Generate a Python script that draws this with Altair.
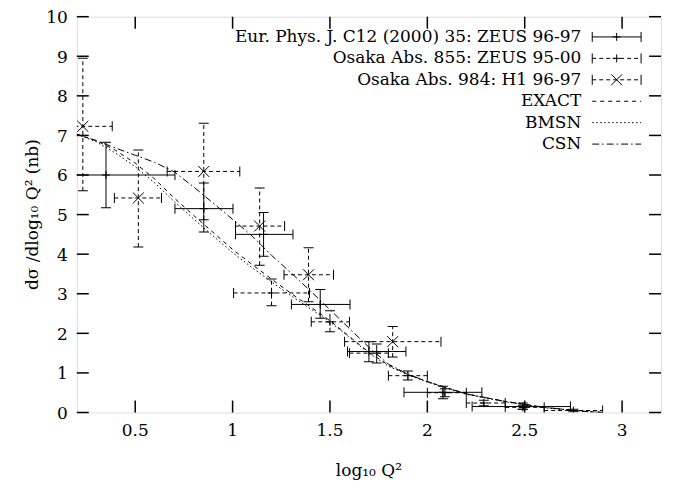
import altair as alt
import pandas as pd

# ---------------- data ----------------
# ZEUS 96-97 (Eur. Phys. J. C12 (2000) 35)
z97_x   = [0.35, 0.852, 1.159, 1.45, 1.70, 2.08, 2.49]
z97_y   = [6.00, 5.15, 4.50, 2.73, 1.54, 0.51, 0.15]
z97_xlo = [-0.006, 0.704, 1.015, 1.302, 1.59, 1.88, 2.23]
z97_xhi = [0.704, 1.002, 1.31, 1.603, 1.89, 2.28, 2.735]
z97_ylo = [5.17, 4.56, 3.95, 2.38, 1.28, 0.35, 0.08]
z97_yhi = [6.83, 5.80, 5.05, 3.11, 1.79, 0.66, 0.24]

# ZEUS 95-00 (Osaka Abs. 855)
z00_x   = [1.20, 1.50, 1.74, 1.90, 2.09, 2.29, 2.49, 2.75]
z00_y   = [3.02, 2.29, 1.50, 0.93, 0.50, 0.24, 0.13, 0.05]
z00_xlo = [1.005, 1.404, 1.60, 1.80, 2.00, 2.20, 2.40, 2.60]
z00_xhi = [1.395, 1.60, 1.80, 2.00, 2.20, 2.40, 2.60, 2.90]
z00_ylo = [2.70, 2.04, 1.25, 0.82, 0.40, 0.17, 0.08, 0.02]
z00_yhi = [3.37, 2.57, 1.73, 1.05, 0.60, 0.31, 0.18, 0.08]

# H1 96-97 (Osaka Abs. 984)
h1_x   = [0.231, 0.516, 0.852, 1.139, 1.39, 1.822]
h1_y   = [7.23, 5.42, 6.09, 4.71, 3.48, 1.79]
h1_xlo = [0.08, 0.393, 0.664, 1.015, 1.264, 1.575]
h1_xhi = [0.382, 0.635, 1.037, 1.267, 1.518, 2.07]
h1_ylo = [5.60, 4.18, 4.87, 3.72, 2.80, 1.40]
h1_yhi = [8.95, 6.63, 7.31, 5.67, 4.16, 2.17]

# theory curves
curve_x = [0.2, 0.3, 0.4, 0.5, 0.6, 0.7, 0.8, 0.9, 1.0, 1.1, 1.2, 1.3, 1.4,
           1.5, 1.6, 1.7, 1.8, 1.9, 2.0, 2.2, 2.4, 2.6, 2.8, 2.9]
exact_y = [7.03, 6.87, 6.62, 6.30, 5.90, 5.42, 4.98, 4.55, 4.12, 3.74, 3.37, 3.01, 2.67,
           2.32, 1.92, 1.52, 1.20, 0.96, 0.78, 0.47, 0.28, 0.13, 0.03, 0.0]
bmsn_y  = [7.03, 6.84, 6.55, 6.21, 5.80, 5.33, 4.89, 4.46, 4.04, 3.66, 3.30, 2.95, 2.62,
           2.29, 1.90, 1.50, 1.17, 0.95, 0.77, 0.46, 0.27, 0.12, 0.03, 0.0]
csn_y   = [7.03, 6.87, 6.68, 6.50, 6.32, 6.08, 5.70, 5.29, 4.88, 4.46, 3.97, 3.53, 3.07,
           2.60, 2.12, 1.65, 1.22, 0.97, 0.78, 0.47, 0.28, 0.13, 0.03, 0.0]

x_ticks = [0.5, 1, 1.5, 2, 2.5, 3]
x_tick_labels = ["0.5", "1", "1.5", "2", "2.5", "3"]
y_ticks = list(range(0, 11))
y_tick_labels = [str(v) for v in y_ticks]

x_title = "log₁₀ Q²"
y_title = "dσ /dlog₁₀ Q² (nb)"

legend_labels = ["Eur. Phys. J. C12 (2000) 35: ZEUS 96-97",
                 "Osaka Abs. 855: ZEUS 95-00",
                 "Osaka Abs. 984: H1 96-97",
                 "EXACT", "BMSN", "CSN"]

# ---------------- layout ----------------
W, H = 586, 397
FONT = "DejaVu Serif"
FS = 17
DASH = [4, 3]
XPATH = "M-1,-1L1,1M-1,1L1,-1"
PLUS = "M-1,0L1,0M0,-1L0,1"

xs = alt.Scale(domain=[0.2, 3.2], nice=False, zero=False)
ys = alt.Scale(domain=[0, 10], nice=False, zero=False)


def X(field):
    return alt.X(field, scale=xs, axis=None)


def Y(field):
    return alt.Y(field, scale=ys, axis=None)


def frame(x, y, xlo, xhi, ylo, yhi):
    return pd.DataFrame(dict(x=x, y=y, xlo=xlo, xhi=xhi, ylo=ylo, yhi=yhi))


def errbars(df, dash, marker):
    base = alt.Chart(df)
    rk = dict(color="black", strokeWidth=1, clip=True)
    if dash:
        rk["strokeDash"] = dash
    layers = [
        base.mark_rule(**rk).encode(x=X("xlo:Q"), x2="xhi:Q", y=Y("y:Q")),
        base.mark_rule(**rk).encode(x=X("x:Q"), y=Y("ylo:Q"), y2="yhi:Q"),
    ]
    tk = dict(color="black", thickness=1, size=10, clip=True, opacity=1)
    for c in ["ylo", "yhi"]:
        layers.append(base.mark_tick(orient="horizontal", **tk).encode(
            x=X("x:Q"), y=Y(f"{c}:Q")))
    for c in ["xlo", "xhi"]:
        layers.append(base.mark_tick(orient="vertical", **tk).encode(
            x=X(f"{c}:Q"), y=Y("y:Q")))
    layers.append(base.mark_point(shape=marker, size=(121 if marker == XPATH else 64),
                                  filled=False, color="black", strokeWidth=1,
                                  opacity=1, clip=True).encode(x=X("x:Q"), y=Y("y:Q")))
    return layers


layers = []

# tick labels and axis titles as text marks
ylab = pd.DataFrame({"v": y_ticks, "t": y_tick_labels})
xlab = pd.DataFrame({"v": x_ticks, "t": x_tick_labels})
txt = dict(font=FONT, fontSize=FS, color="black")
layers.append(alt.Chart(ylab).mark_text(align="right", baseline="middle", dy=1.5, **txt).encode(
    y=Y("v:Q"), x=alt.value(-9), text="t:N"))
layers.append(alt.Chart(xlab).mark_text(align="center", baseline="middle", **txt).encode(
    x=X("v:Q"), y=alt.value(H + 19), text="t:N"))
layers.append(alt.Chart(pd.DataFrame({"t": [x_title]})).mark_text(
    align="center", baseline="middle", **txt).encode(
    x=alt.value(W / 2), y=alt.value(H + 59), text="t:N"))
layers.append(alt.Chart(pd.DataFrame({"t": [y_title]})).mark_text(
    align="center", baseline="middle", angle=270, **txt).encode(
    x=alt.value(-44), y=alt.value(H / 2), text="t:N"))

# inward ticks on all four sides
yt = pd.DataFrame({"v": y_ticks})
xt = pd.DataFrame({"v": x_ticks})
tick_style = dict(color="black", thickness=1.5, size=12, opacity=1)
layers.append(alt.Chart(yt).mark_tick(orient="horizontal", **tick_style).encode(
    y=Y("v:Q"), x=alt.value(6)))
layers.append(alt.Chart(yt).mark_tick(orient="horizontal", **tick_style).encode(
    y=Y("v:Q"), x=alt.value(W - 6)))
layers.append(alt.Chart(xt).mark_tick(orient="vertical", **tick_style).encode(
    x=X("v:Q"), y=alt.value(H - 6)))
layers.append(alt.Chart(xt).mark_tick(orient="vertical", **tick_style).encode(
    x=X("v:Q"), y=alt.value(6)))

# theory curves
cdf = pd.DataFrame({"x": curve_x, "exact": exact_y, "bmsn": bmsn_y, "csn": csn_y})
curve_dash = {"exact": [4, 4], "bmsn": [1.5, 2.5], "csn": [7, 3, 1.5, 3]}
for key, dsh in curve_dash.items():
    layers.append(alt.Chart(cdf).mark_line(color="black", strokeWidth=1, strokeDash=dsh,
                                           clip=True).encode(x=X("x:Q"), y=Y(f"{key}:Q")))

# data
layers += errbars(frame(z97_x, z97_y, z97_xlo, z97_xhi, z97_ylo, z97_yhi), None, PLUS)
layers += errbars(frame(z00_x, z00_y, z00_xlo, z00_xhi, z00_ylo, z00_yhi), DASH, PLUS)
layers += errbars(frame(h1_x, h1_y, h1_xlo, h1_xhi, h1_ylo, h1_yhi), DASH, XPATH)

# legend (pixel positions inside the plot area)
LX0, LX1, LXT = 517, 566, 506
LY0, LDY = 20.3, 21.5
one = pd.DataFrame({"a": [0]})
sample_dash = [None, DASH, DASH, [4, 4], [1.5, 2.5], [7, 3, 1.5, 3]]
for i, lab in enumerate(legend_labels):
    yy = LY0 + i * LDY
    layers.append(alt.Chart(pd.DataFrame({"t": [lab]})).mark_text(
        align="right", baseline="middle", **txt).encode(
        x=alt.value(LXT), y=alt.value(yy), text="t:N"))
    rk = dict(color="black", strokeWidth=1)
    if sample_dash[i]:
        rk["strokeDash"] = sample_dash[i]
    layers.append(alt.Chart(one).mark_rule(**rk).encode(
        x=alt.value(LX0), x2=alt.value(LX1), y=alt.value(yy)))
    if i < 3:
        for xe in (LX0, LX1):
            layers.append(alt.Chart(one).mark_rule(color="black", strokeWidth=1).encode(
                x=alt.value(xe), y=alt.value(yy - 5), y2=alt.value(yy + 5)))
        layers.append(alt.Chart(one).mark_point(
            shape=(XPATH if i == 2 else PLUS), size=(121 if i == 2 else 64),
            filled=False, color="black", strokeWidth=1, opacity=1).encode(
            x=alt.value((LX0 + LX1) / 2), y=alt.value(yy)))

chart = alt.layer(*layers).properties(
    width=W, height=H,
    autosize=alt.AutoSizeParams(type="none"),
    padding={"left": 69, "top": 8, "right": 10, "bottom": 70},
).configure_view(stroke="black", strokeWidth=1.5).configure(background="white")

chart.save("out.html", embed_options={"renderer": "svg", "actions": False})
